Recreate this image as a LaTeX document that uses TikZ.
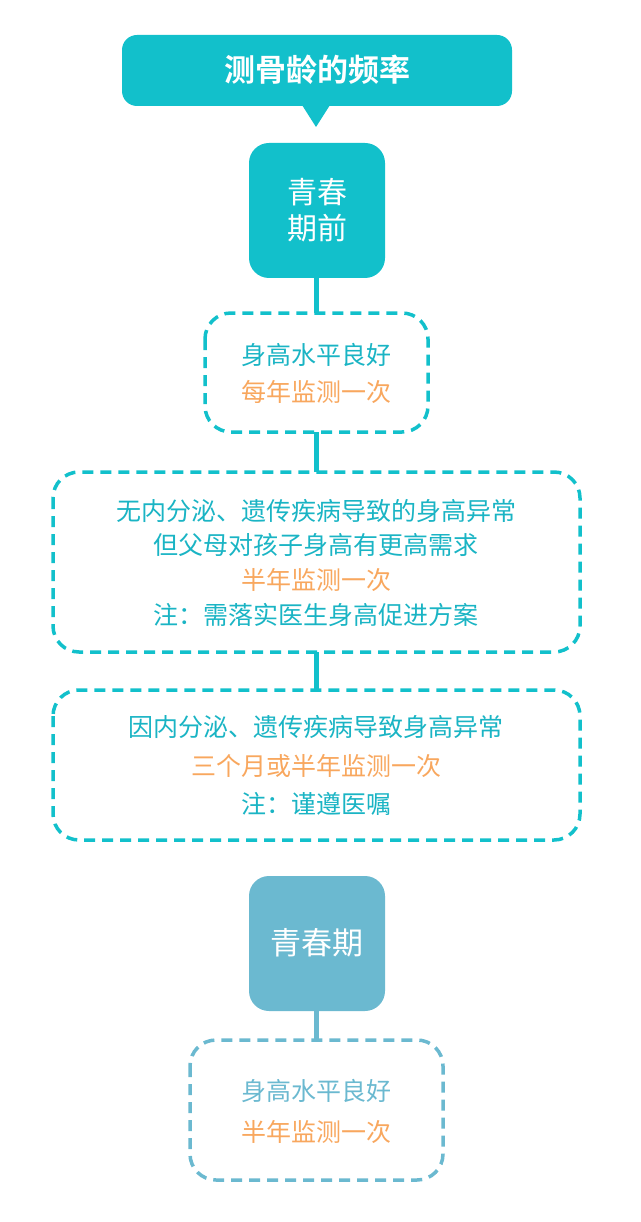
\documentclass[tikz,border=0pt]{standalone}
\usepackage{fontspec}
\setmainfont{Noto Sans CJK SC}
\newfontfamily\cjkb{Noto Sans CJK SC Bold}
\definecolor{teal1}{HTML}{12C0CB}
\definecolor{blue1}{HTML}{6BB9D0}
\definecolor{orange1}{HTML}{F8A75E}
\definecolor{tealtext}{HTML}{1AB4C4}
\begin{document}
\begin{tikzpicture}[x=1pt,y=-1pt,
 solid/.style={rounded corners=20pt,inner sep=0pt,text=white,font=\fontsize{30}{36}\selectfont,align=center},
 dbox/.style={draw,dashed,line width=3.5pt,dash pattern=on 11pt off 7pt,rounded corners=26pt},
 link/.style={line width=5pt},
 t/.style={font=\fontsize{25}{30}\selectfont,inner sep=0pt}]
\useasboundingbox (0,0) rectangle (640,1222);
% title
\fill[teal1,rounded corners=15pt] (122,35) rectangle (512,106);
\fill[teal1] (302,105) -- (330,105) -- (316,127) -- cycle;
\node[text=white,font=\cjkb\fontsize{31}{36}\selectfont] (title) at (317,70) {测骨龄的频率};
% pre-puberty
\fill[teal1,rounded corners=20pt] (249,143) rectangle (385,278);
\node[solid] (pre) at (317,210) {青春\\期前};
\draw[teal1,dbox] (205,313) rectangle (428,432);
\draw[teal1,link] (316,278) -- (316,313);
\node[t,text=tealtext] (a1) at (316,355) {身高水平良好};
\node[t,text=orange1] (a2) at (316,392) {每年监测一次};
\draw[teal1,link] (316,432) -- (316,472);
\draw[teal1,dbox] (53,472) rectangle (580,652);
\node[t,text=tealtext] (b1) at (316,511) {无内分泌、遗传疾病导致的身高异常};
\node[t,text=tealtext] (b2) at (316,545) {但父母对孩子身高有更高需求};
\node[t,text=orange1] (b3) at (316,580) {半年监测一次};
\node[t,text=tealtext] (b4) at (316,615) {注：需落实医生身高促进方案};
\draw[teal1,link] (316,652) -- (316,690);
\draw[teal1,dbox] (53,690) rectangle (580,840);
\node[t,text=tealtext] (c1) at (316,727) {因内分泌、遗传疾病导致身高异常};
\node[t,text=orange1] (c2) at (316,766) {三个月或半年监测一次};
\node[t,text=tealtext] (c3) at (316,804) {注：谨遵医嘱};
% puberty
\fill[blue1,rounded corners=20pt] (249,876) rectangle (385,1011);
\node[solid,font=\fontsize{31}{36}\selectfont] (pub) at (317,943) {青春期};
\draw[blue1,link] (316,1011) -- (316,1040);
\draw[blue1,dbox] (190,1040) rectangle (443,1180);
\node[t,text=blue1] (d1) at (316,1091) {身高水平良好};
\node[t,text=orange1] (d2) at (316,1132) {半年监测一次};
\end{tikzpicture}
\end{document}
